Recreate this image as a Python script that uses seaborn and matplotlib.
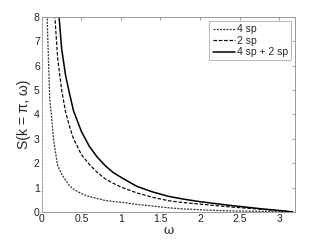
import numpy as np
import pandas as pd
import seaborn as sns
import matplotlib
matplotlib.use("Agg")
import matplotlib.pyplot as plt

# values
omega = [0.05, 0.07, 0.10, 0.12, 0.15, 0.20, 0.25, 0.30, 0.35, 0.40,
         0.50, 0.60, 0.70, 0.80, 0.90, 1.00, 1.20, 1.40, 1.60, 1.80,
         2.00, 2.20, 2.40, 2.60, 2.80, 3.00, 3.17]

s_4sp = [11.0, 7.6, 4.6, 4.0, 2.9, 1.9, 1.55, 1.3, 1.08, 0.93,
         0.75, 0.63, 0.55, 0.47, 0.43, 0.40, 0.31, 0.24, 0.17, 0.12,
         0.09, 0.06, 0.04, 0.03, 0.02, 0.01, 0.0]

s_2sp = [np.nan, np.nan, np.nan, 11.5, 8.7, 6.3, 5.0, 4.1, 3.5, 3.0,
         2.35, 1.95, 1.62, 1.36, 1.18, 1.02, 0.78, 0.60, 0.46, 0.38,
         0.32, 0.26, 0.20, 0.15, 0.10, 0.05, 0.0]

s_sum = [np.nan, np.nan, np.nan, np.nan, 11.6, 8.7, 6.7, 5.6, 4.85, 4.15,
         3.3, 2.69, 2.25, 1.9, 1.62, 1.42, 1.05, 0.82, 0.64, 0.52,
         0.42, 0.34, 0.26, 0.19, 0.12, 0.06, 0.0]

series = ["4 sp", "2 sp", "4 sp + 2 sp"]

df = pd.DataFrame({
    "omega": omega * 3,
    "S": s_4sp + s_2sp + s_sum,
    "series": [series[0]] * len(omega) + [series[1]] * len(omega) + [series[2]] * len(omega),
})

sns.set_style("white")
plt.rcParams['font.family'] = ['Liberation Sans', 'DejaVu Sans']

fig = plt.figure(figsize=(3.27, 2.45), dpi=100)
ax = fig.add_axes([0.128, 0.135, 0.774, 0.796])

styles = {
    "4 sp": dict(color="#333333", linestyle=(0, (1.6, 1.0)), linewidth=0.9),
    "2 sp": dict(color="black", linestyle=(0, (3, 1.5)), linewidth=0.85),
    "4 sp + 2 sp": dict(color="black", linestyle="-", linewidth=1.1),
}
for name in series:
    sub = df[df["series"] == name].dropna()
    sns.lineplot(data=sub, x="omega", y="S", ax=ax, label=name, **styles[name])

ax.set_xlim(0, 3.2)
ax.set_ylim(0, 8)
ax.set_xticks([0, 0.5, 1, 1.5, 2, 2.5, 3])
ax.set_xticklabels(["0", "0.5", "1", "1.5", "2", "2.5", "3"])
ax.set_yticks(range(0, 9))
ax.tick_params(direction="in", length=2.5, width=0.6, labelsize=7.5, pad=1.5,
               top=True, right=True, colors="#888888", labelcolor="#222222")

for side, sp in ax.spines.items():
    sp.set_color("#999999")
    sp.set_linewidth(0.7)
ax.spines["left"].set_linestyle((0, (2, 1.5)))

ax.set_xlabel("ω", fontsize=9, labelpad=0, family=["DejaVu Serif"])
ax.set_ylabel("S(k = π, ω)", fontsize=10, labelpad=2)

leg = ax.legend(loc="upper right", fontsize=7.5, frameon=True, fancybox=False,
                handlelength=2.2, handletextpad=0.1, borderpad=0.3,
                labelspacing=0.15, borderaxespad=0.4)
leg.get_frame().set_edgecolor("#999999")
leg.get_frame().set_linewidth(0.6)

fig.savefig("out.png", dpi=100)
